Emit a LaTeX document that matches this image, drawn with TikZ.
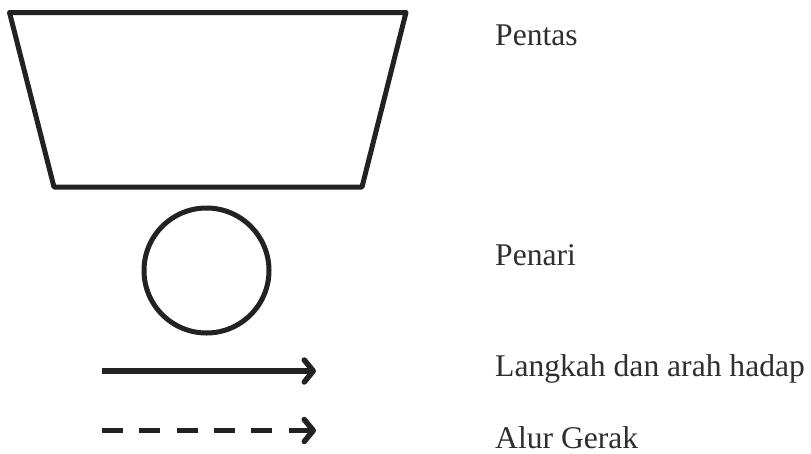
\documentclass[tikz,border=0pt]{standalone}
\usepackage{fontspec}
\setmainfont{Liberation Serif}
\usetikzlibrary{arrows.meta,positioning}
\definecolor{inkgray}{HTML}{222222}
\definecolor{textgray}{HTML}{2E2E2E}

\begin{document}
\begin{tikzpicture}[x=1pt, y=-1pt,
		outline/.style={draw=inkgray, line width=5pt, line join=round},
		legendtext/.style={anchor=base west, inner sep=0pt, text=textgray, font=\fontsize{31.6}{38}\selectfont},
		legendarrow/.style={draw=inkgray, line width=5.5pt, -{Straight Barb[length=9pt, width=22pt, line cap=round, line join=round]}}]
	\useasboundingbox (0,0) rectangle (811,453);
	
	% pentas
	\coordinate (s1) at (9.5,12.5);
	\coordinate (s2) at (406,12.5);
	\coordinate (s3) at (362,187);
	\coordinate (s4) at (54,187);
	\draw[outline] (s1) -- (s2) -- (s3) -- (s4) -- cycle;
	
	% penari
	\node[outline, circle, minimum size=125pt, inner sep=0pt] (dancer) at (206.5,270.5) {};
	
	% arah
	\coordinate (a1) at (102,371);
	\coordinate (a2) at (316,371);
	\coordinate (b1) at (102,430.5);
	\coordinate (b2) at (316,430.5);
	\draw[legendarrow] (a1) -- (a2);
	\draw[legendarrow, dash pattern=on 21pt off 16.3pt] (b1) -- (b2);
	
	% keterangan
	\node[legendtext] (pentas) at (495,45) {Pentas};
	\node[legendtext] (penari) at (495,265) {Penari};
	\node[legendtext] (langkah) at (495,376) {Langkah dan arah hadap};
	\node[legendtext] (alur) at (495,448) {Alur Gerak};
\end{tikzpicture}
\end{document}
